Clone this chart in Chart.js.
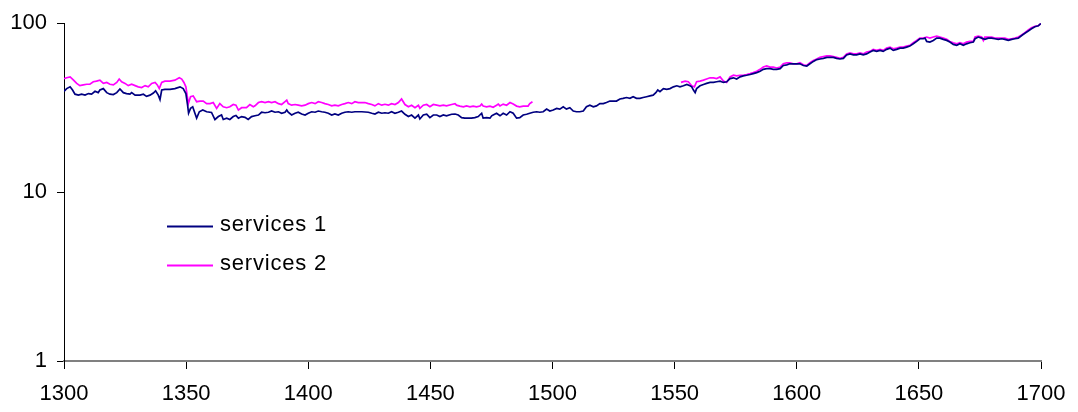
<!DOCTYPE html>
<html>
<head>
<meta charset="utf-8">
<script src="https://cdn.jsdelivr.net/npm/chart.js@4.4.1/dist/chart.umd.min.js"></script>
<style>
  html, body { margin: 0; padding: 0; background: #ffffff; }
  #wrap { width: 1078px; height: 412px; }
</style>
</head>
<body>
<div id="wrap"><canvas id="c" width="1078" height="412"></canvas></div>
<script>
// ---- data ----
const seriesNames = ["services 1", "services 2"];
const xTicks = [1300, 1350, 1400, 1450, 1500, 1550, 1600, 1650, 1700];
const yTicks = [1, 10, 100];

const years1 = [
  1300,1301.1,1302.5,1303.5,1304.5,1305.9,1307.2,1308.6,1310,1311.3,1312.7,1314,1314.7,1316.1,1317.5,1318.8,1320.2,1321.6,1322.9,1324.3,
  1325.6,1327,1327.7,1329.1,1331.1,1332.5,1333.8,1335.2,1336.6,1337.5,1338.6,1339.3,1340,1341.3,1343.4,1345.4,1347.5,1348.8,1349.9,1350.6,
  1351,1351.8,1352.7,1353.6,1354.3,1355.4,1356.8,1358.4,1360.4,1361.8,1363.2,1364.5,1365.2,1366.6,1367.9,1369.3,1370.4,1371.4,1372.7,1374.1,
  1375.4,1376.8,1378.2,1379.6,1380.9,1382.3,1383.7,1385,1386.4,1387.8,1389.1,1390.5,1391.2,1391.8,1393.2,1394.6,1395.9,1397.3,1398.7,1400,
  1401.4,1402.8,1404.1,1405.5,1406.8,1408.2,1409.6,1410.9,1412.3,1413.7,1415,1416.4,1417.8,1419.1,1421.9,1424.6,1426,1427.3,1428.7,1430.1,
  1431.4,1432.8,1434.1,1435.5,1436.9,1438.2,1439.6,1441,1442.3,1443.7,1445.1,1445.7,1447.1,1448.5,1449.8,1451.2,1452.6,1453.9,1455.3,1456.6,
  1458.7,1460.1,1461.4,1462.8,1464.1,1465.5,1466.8,1468.2,1469.6,1471,1471.6,1473,1474.4,1475.1,1475.7,1477.1,1478.5,1479.8,1481.2,1482.6,
  1483.9,1485.3,1486.6,1488,1489.4,1490.7,1492.1,1493.5,1494.8,1496.2,1497.6,1498.9,1500.3,1501.7,1503,1504.4,1505.7,1507.1,1508.5,1509.8,
  1511.2,1512.6,1513.9,1515.3,1516.7,1518,1519.4,1520.8,1522.1,1523.5,1524.8,1526.2,1527.6,1528.9,1530.3,1531.7,1533,1534.4,1535.8,1537.1,
  1538.5,1539.9,1541.2,1542.3,1543.1,1544,1545.4,1546.8,1548.1,1549.5,1550.9,1552.2,1553.6,1555,1556.3,1557,1557.7,1558.4,1559,1560.4,
  1561.8,1563.1,1564.5,1565.9,1567.2,1568.6,1570,1571.3,1572.7,1574.1,1575.4,1576.8,1578.1,1579.5,1580.9,1582.2,1583.6,1585,1586.3,1587.7,
  1589.1,1590.4,1591.8,1593.2,1594.5,1595.9,1597.2,1600,1601.3,1602.7,1604.1,1605.4,1606.8,1608.2,1609.5,1610.9,1612.3,1615,1616.3,1617.7,
  1619.1,1620.4,1621.8,1623.2,1624.5,1625.9,1627.2,1628.6,1630,1631.3,1632.7,1634.1,1635.4,1636.8,1638.2,1639.5,1640.9,1642.3,1643.6,1645,
  1646.3,1647.7,1649.1,1650.4,1651.8,1652.5,1653.2,1654.5,1655.9,1657.3,1658.6,1660,1661.4,1662.7,1664.1,1665.5,1666.8,1668.2,1669.5,1670.9,
  1672.3,1673,1674.3,1675.7,1677,1678.4,1679.8,1681.1,1682.5,1683.9,1685.2,1686.6,1688,1689.3,1690.7,1692.1,1693.4,1694.8,1696.1,1697.5,
  1698.9,1700
];
const services1 = [
  39.5,41.0,42.0,40.2,38.0,37.5,38.0,37.5,38.3,38.0,39.5,38.8,40.2,41.0,38.8,38.0,37.8,38.8,40.8,38.8,
  38.3,38.0,38.8,37.5,37.5,38.0,36.9,37.5,38.6,39.8,37.5,35.3,40.2,40.6,40.6,41.0,42.0,41.0,38.3,32.7,
  29.3,31.3,32.0,29.3,27.4,29.9,30.6,29.9,29.6,26.9,28.0,28.6,26.9,27.4,26.9,28.0,28.4,27.4,28.0,27.7,
  26.9,28.0,28.3,28.6,29.7,29.5,29.7,30.2,29.7,29.9,29.3,29.7,30.6,29.7,28.6,29.3,29.7,29.0,28.6,29.3,
  29.9,29.7,30.2,29.9,29.7,29.3,28.6,29.0,28.6,29.3,29.7,29.9,29.7,29.9,29.9,29.7,29.3,29.0,29.7,29.3,
  29.5,29.3,29.9,29.3,29.7,30.2,28.9,28.0,28.6,27.4,28.6,27.1,28.6,28.9,27.6,28.6,28.6,28.0,28.6,28.3,
  28.9,29.0,28.6,27.6,27.4,27.4,27.4,27.6,28.0,29.3,27.4,27.6,27.4,28.3,28.6,29.3,28.3,29.3,28.6,29.9,
  29.3,27.4,27.6,28.6,28.9,29.3,29.7,29.9,29.7,29.9,31.0,30.2,30.6,31.3,31.0,32.0,31.0,31.6,30.2,29.9,
  29.9,30.2,32.0,32.7,32.0,32.4,33.4,33.4,33.9,34.6,34.6,34.6,35.6,35.9,36.3,35.9,36.7,35.9,35.9,36.3,
  36.7,37.1,37.5,38.8,40.2,39.3,41.0,40.6,41.0,42.0,42.6,42.0,42.6,43.4,42.6,42.0,40.2,38.8,41.0,42.6,
  43.4,44.0,44.6,44.6,45.0,45.4,44.6,45.0,47.0,47.5,46.7,48.1,48.8,49.2,49.7,50.3,51.0,51.9,53.3,53.8,
  53.8,53.3,53.3,53.8,56.2,56.7,57.5,57.5,57.5,56.2,55.8,57.5,59.4,60.9,61.4,61.9,62.8,62.8,61.9,61.4,
  61.9,64.9,65.8,64.9,64.9,65.8,64.9,65.8,67.5,69.0,68.1,69.0,68.1,70.0,71.2,69.0,70.0,71.2,71.2,72.2,
  73.2,75.5,78.0,80.9,80.9,81.6,78.0,77.3,79.1,81.6,81.6,80.2,79.1,77.3,74.9,73.9,75.5,73.9,75.5,76.6,
  77.3,80.9,82.8,81.6,80.2,81.6,81.6,80.9,80.2,80.9,80.2,79.1,80.2,80.9,81.6,84.6,87.2,89.9,92.6,95.2,
  96.5,100
];

const years2 = [
  1300,1301.1,1302.5,1303.9,1305.2,1306.5,1307.9,1309.3,1310.6,1312,1313.3,1314.7,1316.1,1317.5,1318.8,1320.2,1321.6,1322.6,1323.6,1325,
  1326.3,1327.7,1329.1,1330.4,1331.8,1333.2,1334.5,1335.9,1337.3,1338.2,1339,1340,1341.3,1343.4,1345.4,1347.2,1348.2,1349.1,1349.9,1350.9,
  1351.8,1352.9,1354.3,1355.7,1357,1358.4,1359.8,1361.1,1362.5,1363.8,1365.2,1366.6,1367.9,1369.3,1370.4,1371.4,1372.7,1374.7,1376.1,1377.5,
  1378.2,1379.6,1380.9,1382.3,1383.7,1385,1386.4,1387.8,1389.1,1390.5,1391.2,1391.8,1393.2,1394.6,1395.9,1397.3,1398.7,1400,1401.4,1402.8,
  1404.1,1405.5,1406.8,1408.2,1409.6,1410.9,1412.3,1413.7,1415,1416.4,1417.8,1419.1,1420.5,1421.9,1423.2,1424.6,1426,1427.3,1428.7,1430.1,
  1431.4,1432.8,1434.1,1435.5,1436.9,1438.2,1439.6,1441,1442.3,1443.7,1445.1,1445.7,1447.1,1448.5,1449.8,1451.2,1452.6,1453.9,1455.3,1456.6,
  1458.7,1460.1,1460.7,1462.1,1463.5,1464.8,1466.2,1467.5,1468.9,1470.3,1471,1471.6,1473,1474.4,1475.7,1477.1,1477.8,1478.5,1479.8,1481.2,
  1482.6,1483.9,1485.3,1486.6,1488,1490,1490.7,1491.8,
  1520,
  1552.6,1554.3,1555.6,1557,1558.1,1559,1560.4,1561.8,1563.1,1564.5,1565.9,1567.2,1568.6,1570,1571.3,1572.7,1574.1,1575.4,1576.8,1578.1,
  1579.5,1580.9,1582.2,1583.6,1585,1586.3,1587.7,1589.1,1590.4,1591.8,1593.2,1594.5,1595.9,1597.2,1598.6,1600,1601.3,1602.7,1604.1,1605.4,
  1606.8,1608.2,1609.5,1610.9,1612.3,1613.6,1615,1616.3,1617.7,1619.1,1620.4,1621.8,1623.2,1624.5,1625.9,1627.2,1628.6,1630,1631.3,1632.7,
  1634.1,1635.4,1636.8,1638.2,1639.5,1640.9,1642.3,1643.6,1645,1646.3,1647.7,1649.1,1650.4,1651.8,1653.2,1654.5,1655.9,1657.3,1658.6,1660,
  1661.4,1662.7,1664.1,1665.5,1666.8,1668.2,1669.5,1670.9,1672.3,1673,1674.3,1675.7,1676.4,1677,1678.4,1679.8,1681.1,1682.5,1683.9,1685.2,
  1686.6,1688,1689.3,1690.7,1692.1,1693.4,1694.8,1696.1,1697.5,1698.9,1700
];
const services2 = [
  47.0,47.5,48.1,46.0,44.0,42.7,43.1,43.5,43.5,45.0,45.4,46.0,44.0,44.6,43.5,43.1,44.6,46.7,45.0,44.0,
  42.7,43.5,42.7,42.0,41.6,42.7,42.0,44.0,44.6,43.1,41.0,44.6,45.4,45.4,46.0,47.5,46.7,44.6,42.0,33.4,
  36.7,37.1,34.3,34.6,34.6,33.4,33.4,33.9,31.3,33.4,32.0,31.6,32.0,33.0,32.7,30.6,31.6,31.6,33.0,32.0,
  32.4,33.9,34.3,33.9,34.3,33.9,34.3,33.4,33.0,34.3,35.0,33.4,32.7,33.0,32.7,32.4,32.7,33.4,33.9,33.4,
  34.3,33.9,33.4,33.0,32.4,32.7,32.4,33.0,33.4,33.9,33.4,34.3,33.9,33.9,33.9,33.4,33.0,32.4,33.4,32.7,
  33.1,32.7,33.4,33.0,33.9,35.6,33.0,32.0,32.7,31.6,32.7,31.3,32.7,33.0,32.0,33.0,32.7,32.4,32.7,32.4,
  33.0,33.4,32.7,32.3,32.0,32.4,32.0,32.3,32.0,32.3,33.2,32.3,32.0,32.3,31.8,32.7,33.2,32.4,33.2,32.7,
  33.9,33.2,32.3,32.0,32.3,32.3,33.4,34.3,
  null,
  44.6,45.4,45.0,42.6,42.0,45.0,45.4,46.0,46.7,47.5,47.5,47.0,48.1,45.4,44.6,48.1,49.2,48.8,49.2,49.2,
  49.7,50.3,51.0,51.9,53.3,55.0,55.8,55.0,55.0,54.3,55.0,57.5,58.3,58.3,57.5,57.5,58.3,56.7,56.2,58.3,
  60.1,61.4,62.8,63.5,64.1,64.1,63.5,62.8,61.9,62.8,65.8,66.7,65.8,65.8,66.7,65.8,67.5,68.1,70.0,69.0,
  70.0,69.0,71.2,72.2,70.6,71.2,72.2,72.2,73.2,73.9,76.6,79.1,81.6,81.6,82.8,81.6,82.8,83.9,82.8,81.6,
  80.2,78.0,76.6,75.5,76.6,75.5,77.3,78.0,78.0,82.8,83.9,82.8,79.1,82.8,82.8,82.8,81.6,81.6,81.6,81.6,
  80.2,80.9,81.6,82.8,85.2,88.0,91.1,93.9,95.9,96.5,100
];

const toPoints = (xs, ys) => xs.map((x, i) => ({ x: x, y: ys[i] }));

const FONT = "'Liberation Sans', Arial, Helvetica, sans-serif";

const legendPlugin = {
  id: 'insideLegend',
  afterDraw(chart) {
    const ctx = chart.ctx;
    const rows = [226, 265];
    ctx.save();
    chart.data.datasets.forEach((ds, i) => {
      const y = rows[i];
      ctx.strokeStyle = ds.borderColor;
      ctx.lineWidth = 2;
      ctx.beginPath();
      ctx.moveTo(167, y + 0.5);
      ctx.lineTo(213, y + 0.5);
      ctx.stroke();
      ctx.fillStyle = '#000';
      ctx.font = "22px " + FONT;
      if ('letterSpacing' in ctx) ctx.letterSpacing = '0.8px';
      ctx.textBaseline = 'middle';
      ctx.textAlign = 'left';
      ctx.fillText(ds.label, 220, y - 1);
    });
    ctx.restore();
  }
};

new Chart(document.getElementById('c'), {
  type: 'line',
  data: {
    datasets: [
      {
        label: seriesNames[0],
        data: toPoints(years1, services1),
        borderColor: '#000080',
        borderWidth: 1.7,
        pointRadius: 0,
        tension: 0,
        spanGaps: false
      },
      {
        label: seriesNames[1],
        data: toPoints(years2, services2),
        borderColor: '#FF00FF',
        borderWidth: 1.7,
        pointRadius: 0,
        tension: 0,
        spanGaps: false
      }
    ]
  },
  options: {
    responsive: false,
    animation: false,
    devicePixelRatio: 1,
    layout: { padding: { left: 0, top: 21, right: 37, bottom: 0 } },
    plugins: {
      legend: { display: false },
      tooltip: { enabled: false }
    },
    scales: {
      x: {
        type: 'linear',
        min: 1300,
        max: 1700,
        afterBuildTicks: (scale) => { scale.ticks = xTicks.map(v => ({ value: v })); },
        afterFit: (scale) => { scale.height = 51; },
        ticks: {
          color: '#000',
          font: { family: FONT, size: 22 },
          padding: 12,
          maxRotation: 0,
          autoSkip: false,
          callback: (v) => String(v)
        },
        grid: {
          drawOnChartArea: false,
          drawTicks: true,
          tickLength: 8,
          tickColor: '#000',
          tickWidth: 1
        },
        border: { display: true, color: '#808080', width: 2 }
      },
      y: {
        type: 'logarithmic',
        min: 1,
        max: 100,
        afterBuildTicks: (scale) => { scale.ticks = yTicks.map(v => ({ value: v })); },
        afterFit: (scale) => { scale.width = 64; },
        ticks: {
          color: '#000',
          font: { family: FONT, size: 22 },
          padding: 10,
          callback: (v) => String(v)
        },
        grid: {
          drawOnChartArea: false,
          drawTicks: true,
          tickLength: 7,
          tickColor: '#000',
          tickWidth: 1
        },
        border: { display: true, color: '#000', width: 1 }
      }
    }
  },
  plugins: [legendPlugin]
});
</script>
</body>
</html>
